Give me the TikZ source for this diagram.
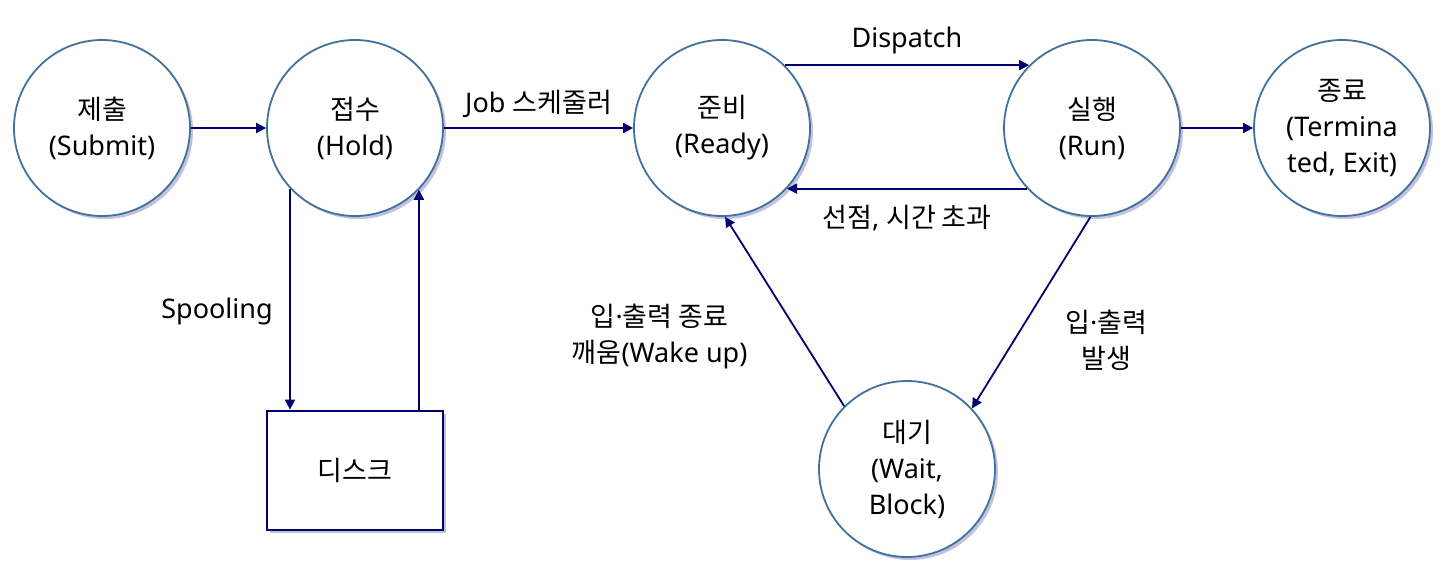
\documentclass[tikz,border=0pt]{standalone}
\usepackage{fontspec}
\setmainfont{Noto Sans}
\newfontfamily\kr{Noto Sans CJK KR}
\usepackage{tikz}
\usetikzlibrary{arrows.meta,positioning,shadows,calc}
\definecolor{rimblue}{RGB}{65,113,156}
\definecolor{linenavy}{RGB}{0,0,110}
\definecolor{shadeblue}{RGB}{80,80,160}
\tikzset{%
	state/.style   = {draw=rimblue, line width=0.9pt, circle, fill=white, minimum size=88pt, inner sep=0pt, align=center, font=\fontsize{13.5}{18}\selectfont,
		drop shadow={shadow xshift=1.5pt, shadow yshift=-1.5pt, fill=shadeblue, opacity=0.35}},
	diskbox/.style = {draw=linenavy, line width=1.4pt, rectangle, fill=white, minimum width=88pt, minimum height=59.5pt, inner sep=0pt, font=\fontsize{13.5}{18}\selectfont,
		drop shadow={shadow xshift=1.5pt, shadow yshift=-1.5pt, fill=shadeblue, opacity=0.35}},
	arrow/.style   = {draw=linenavy, line width=0.9pt, -{Triangle[length=5pt,width=5pt]}},
	tag/.style     = {align=center, font=\fontsize{13.5}{18}\selectfont, inner sep=0pt},
}
\begin{document}
\begin{tikzpicture}[x=0.5pt,y=-0.5pt]
	\useasboundingbox (0,0) rectangle (1445,573);
	
	\node[state] (submit) at (102,128) {{\kr 제출}\\(Submit)};
	\node[state] (hold) at (355,128) {{\kr 접수}\\(Hold)};
	\node[state] (ready) at (722,128) {{\kr 준비}\\(Ready)};
	\node[state] (run) at (1092,128) {{\kr 실행}\\(Run)};
	\node[state] (exit) at (1342,128) {{\kr 종료}\\(Termina\\ted, Exit)};
	\node[state] (wait) at (907,469) {{\kr 대기}\\(Wait,\\Block)};
	\node[diskbox] (disk) at (355,470.5) {{\kr 디스크}};
	
	\draw[arrow] (submit) -- (hold);
	\draw[arrow] (hold) -- node[tag, shift={(0,-24)}] {Job {\kr 스케줄러}} (ready);
	\draw[arrow] (ready.45) -- node[tag, shift={(0,-25)}] {Dispatch} (ready.45 -| run.135);
	\draw[arrow] (run.-137) -- node[tag, shift={(0,29)}] {{\kr 선점}, {\kr 시간 초과}} (run.-137 -| ready.-43);
	\draw[arrow] (run) -- (exit);
	
	\draw[arrow] (hold.-137) -- node[tag, shift={(-73,12)}] {Spooling} (hold.-137 |- disk.north);
	\draw[arrow] (disk.north -| hold.-44) -- (hold.-44);
	
	\draw[arrow] (run.-91) -- node[tag, shift={(75,28)}] {{\kr 입}·{\kr 출력}\\{\kr 발생}} (wait.43);
	\draw[arrow] (wait.135) -- node[tag, shift={(-125,25)}] {{\kr 입}·{\kr 출력 종료}\\{\kr 깨움}(Wake up)} (ready.-88);
\end{tikzpicture}
\end{document}
